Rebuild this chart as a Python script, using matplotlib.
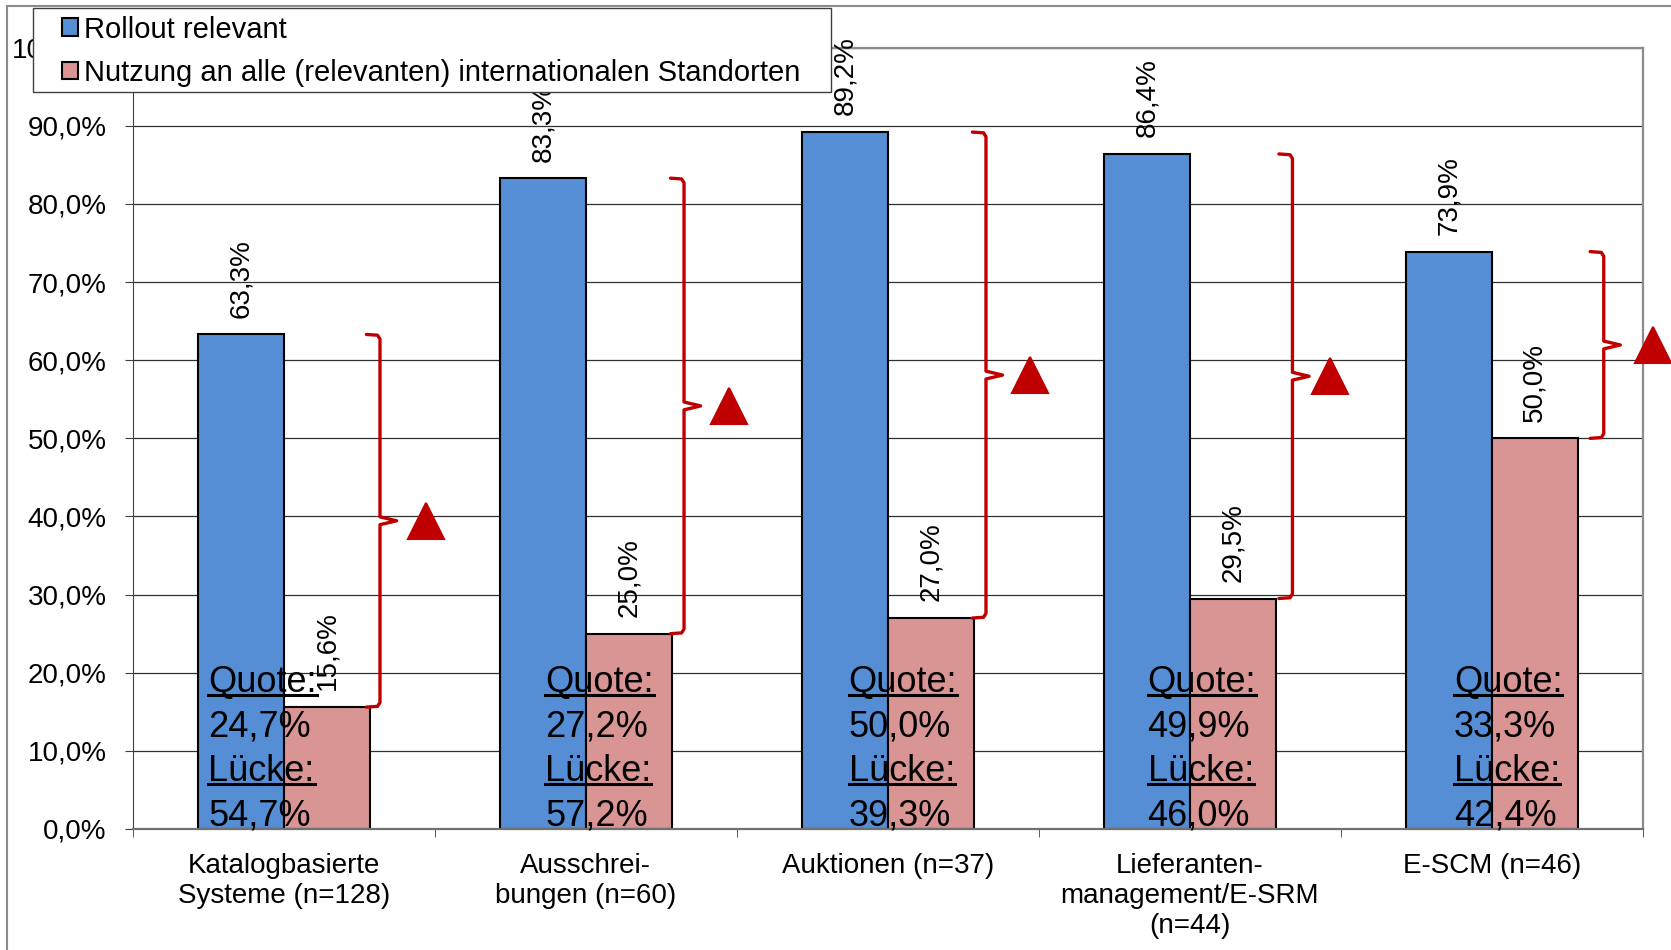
import numpy as np
import matplotlib.pyplot as plt
from matplotlib.patches import Patch, Rectangle
from matplotlib.lines import Line2D

plt.rcParams['font.family'] = ['Liberation Sans', 'DejaVu Sans']

categories = ["Katalogbasierte\nSysteme (n=128)", "Ausschrei-\nbungen (n=60)", "Auktionen (n=37)",
              "Lieferanten-\nmanagement/E-SRM\n(n=44)", "E-SCM (n=46)"]
rollout = [63.3, 83.3, 89.2, 86.4, 73.9]
nutzung = [15.6, 25.0, 27.0, 29.5, 50.0]
quote = [24.7, 27.2, 50.0, 49.9, 33.3]
luecke = [54.7, 57.2, 39.3, 46.0, 42.4]
series_names = ["Rollout relevant", "Nutzung an alle (relevanten) internationalen Standorten"]
yticks = [0, 10, 20, 30, 40, 50, 60, 70, 80, 90, 100]

# placement tweaks (category units)
bracket_dx = [0.318, 0.325, 0.325, 0.34, 0.371]
tri_dx = [0.47, 0.474, 0.47, 0.465, 0.533]
quote_dx = [-0.25, -0.135, -0.13, -0.14, -0.125]


def pct(v):
    return f"{v:.1f}%".replace(".", ",")


blue = "#558ED5"
pink = "#D99594"
red = "#C00000"
W, H = 1671, 950

fig = plt.figure(figsize=(W / 100, H / 100), dpi=100)
ax = fig.add_axes([133 / W, 1 - 829 / H, (1642.7 - 133) / W, (829 - 47.7) / H])

x = np.arange(len(categories))
w = 0.285
b1 = ax.bar(x - w / 2, rollout, w, color=blue, edgecolor="black", linewidth=1.5, zorder=2)
b2 = ax.bar(x + w / 2, nutzung, w, color=pink, edgecolor="black", linewidth=1.5, zorder=2)
ax.bar_label(b1, labels=[pct(v) for v in rollout], rotation=90, padding=12, fontsize=20)
ax.bar_label(b2, labels=[pct(v) for v in nutzung], rotation=90, padding=12, fontsize=20)

# brackets and triangles
for i in range(len(x)):
    top, bot = rollout[i], nutzung[i]
    mid = (top + bot) / 2
    bx = x[i] + bracket_dx[i]
    xs = [bx - 0.045, bx - 0.008, bx, bx, bx + 0.055, bx, bx, bx - 0.008, bx - 0.045]
    ys = [top, top - 0.1, top - 0.6, mid + 0.5, mid, mid - 0.5, bot + 0.6, bot + 0.1, bot]
    ax.plot(xs, ys, color=red, lw=2.4, solid_joinstyle="round", solid_capstyle="round",
            clip_on=False, zorder=4)
    ax.plot(x[i] + tri_dx[i], mid, marker="^", ms=26, color=red, mec=red, mew=1.5,
            clip_on=False, zorder=4)

# Quote / Lücke texts
underline = []
for i in range(len(x)):
    lines = ["Quote:", pct(quote[i]), "Lücke:", pct(luecke[i])]
    xa = x[i] + quote_dx[i]
    for j, s in enumerate(lines):
        off = (3 - j) * 32
        t = ax.annotate(s, xy=(xa, 0.5), xytext=(0, off), textcoords="offset points",
                        ha="left", va="baseline", fontsize=26, zorder=5)
        if j in (0, 2):
            underline.append((t, xa, off))

ax.set_xlim(-0.5, 4.5)
ax.set_ylim(0, 100)
ax.set_yticks(yticks, [pct(v) for v in yticks])
ax.set_xticks(x, categories)
ax.set_xticks(np.arange(-0.5, 5, 1), minor=True)
ax.tick_params(axis="x", which="major", length=0, pad=17, labelsize=20)
ax.tick_params(axis="x", which="minor", length=6, direction="out", color="#404040")
ax.tick_params(axis="y", length=6, pad=13, labelsize=20, color="#404040")
ax.yaxis.grid(True, color="#303030", lw=0.9)
ax.set_axisbelow(True)
for side in ["top", "right"]:
    ax.spines[side].set_color("#8c8c8c")
    ax.spines[side].set_linewidth(1.6)
ax.spines["left"].set_color("#404040")
ax.spines["bottom"].set_color("#707070")
ax.spines["bottom"].set_linewidth(1.6)

# outer chart border
fig.add_artist(Rectangle((7 / W, -0.1), 1.2, 1 - 6 / H + 0.1, transform=fig.transFigure,
                         fill=False, edgecolor="#8c8c8c", lw=1.5, zorder=0.5))

# legend
fig.add_artist(Rectangle((33 / W, 1 - 91.7 / H), (831 - 33) / W, (91.7 - 8.3) / H,
                         transform=fig.transFigure, facecolor="white", edgecolor="#404040",
                         lw=1, zorder=4))
handles = [Patch(facecolor=blue, edgecolor="black", lw=1.5),
           Patch(facecolor=pink, edgecolor="black", lw=1.5)]
fig.legend(handles, series_names, loc="upper left", bbox_to_anchor=(62 / W, 1 - 15.5 / H),
           bbox_transform=fig.transFigure, frameon=False, borderpad=0, borderaxespad=0,
           fontsize=21, handlelength=0.55, handleheight=0.55, handletextpad=0.2,
           labelspacing=0.52)

# underlines
fig.canvas.draw()
r = fig.canvas.get_renderer()
for t, xa, off in underline:
    bb = t.get_window_extent(r)
    yb = ax.transData.transform((xa, 0.5))[1] + off * fig.dpi / 72 - 3
    fig.add_artist(Line2D([bb.x0 / W, bb.x1 / W], [yb / H, yb / H], transform=fig.transFigure,
                          color="black", lw=2.2, zorder=6))

fig.savefig("out.png", dpi=100)
